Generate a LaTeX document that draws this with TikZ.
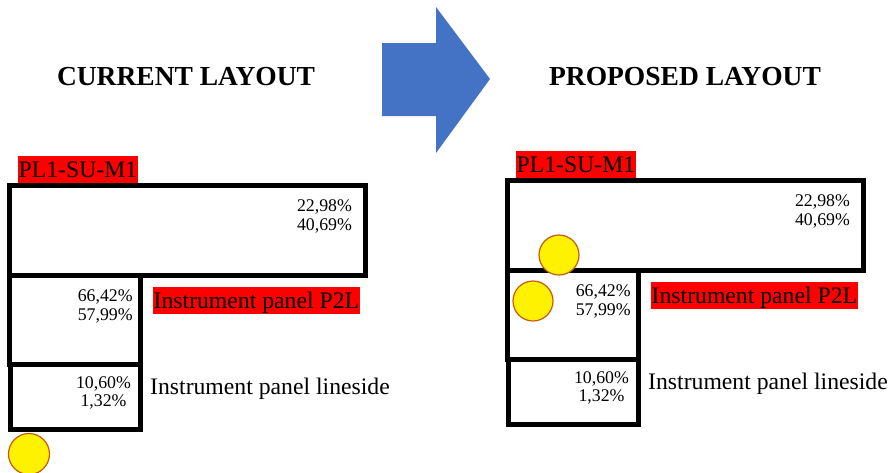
\documentclass[tikz,border=0pt]{standalone}
\usepackage{fontspec}
\setmainfont{Liberation Serif}
\definecolor{arrowblue}{HTML}{4472C4}
\definecolor{ringorange}{HTML}{C55A11}
\tikzset{
 panel/.style={line width=5pt},
 redtag/.style={fill=red,inner xsep=0.5pt,inner ysep=0.5pt,text height=21pt,text depth=5pt,anchor=base west,font=\fontsize{23.7}{26}\selectfont},
 plaintag/.style={inner sep=0pt,anchor=base west,font=\fontsize{23.7}{26}\selectfont},
 pct/.style={inner sep=0pt,anchor=base,font=\fontsize{17.8}{18.4}\selectfont},
 heading/.style={anchor=base,font=\fontsize{27.5}{30}\selectfont\bfseries},
 marker/.style={fill=yellow,draw=ringorange,line width=1.2pt}
}
\begin{document}
\begin{tikzpicture}[x=1pt,y=-1pt]
\useasboundingbox (0,0) rectangle (893,472);
\node[heading] (cur) at (186,85.7) {CURRENT LAYOUT};
\node[heading] (prop) at (685,85.7) {PROPOSED LAYOUT};
\fill[arrowblue] (382,43)--(436,43)--(436,7)--(490,79)--(436,153)--(436,116)--(382,116)--cycle;
% the two panels, right one shifted
\foreach \i/\sx/\sy in {c/0/0,p/498/5}{
\begin{scope}[xshift=\sx pt,yshift=\sy pt]
\draw[panel] (9.5,185.5) rectangle (365.5,275.5);
\draw[panel] (9.5,275.5) rectangle (140.5,364);
\draw[panel] (10.5,364) rectangle (140.5,429.5);
\node[redtag] (pl\i) at (18,177.3) {PL1-SU-M1};
\node[redtag] (ptl\i) at (153,308.3) {Instrument panel P2L};
\node[plaintag] (ls\i) at (150,394) {Instrument panel lineside};
\node[pct] (ua\i) at (324.5,211.7) {22,98\%}; \node[pct] (ub\i) at (324.5,230) {40,69\%};
\node[pct] (ma\i) at (105.2,301.7) {66,42\%}; \node[pct] (mb\i) at (105.2,320) {57,99\%};
\node[pct] (la\i) at (103.5,388.3) {10,60\%}; \node[pct] (lb\i) at (103.5,406.7) {1,32\%};
\end{scope}
}
\draw[marker] (29,454) circle (20.5pt);
\draw[marker] (559,255) circle (20pt);
\draw[marker] (533,301) circle (20pt);
\end{tikzpicture}
\end{document}
